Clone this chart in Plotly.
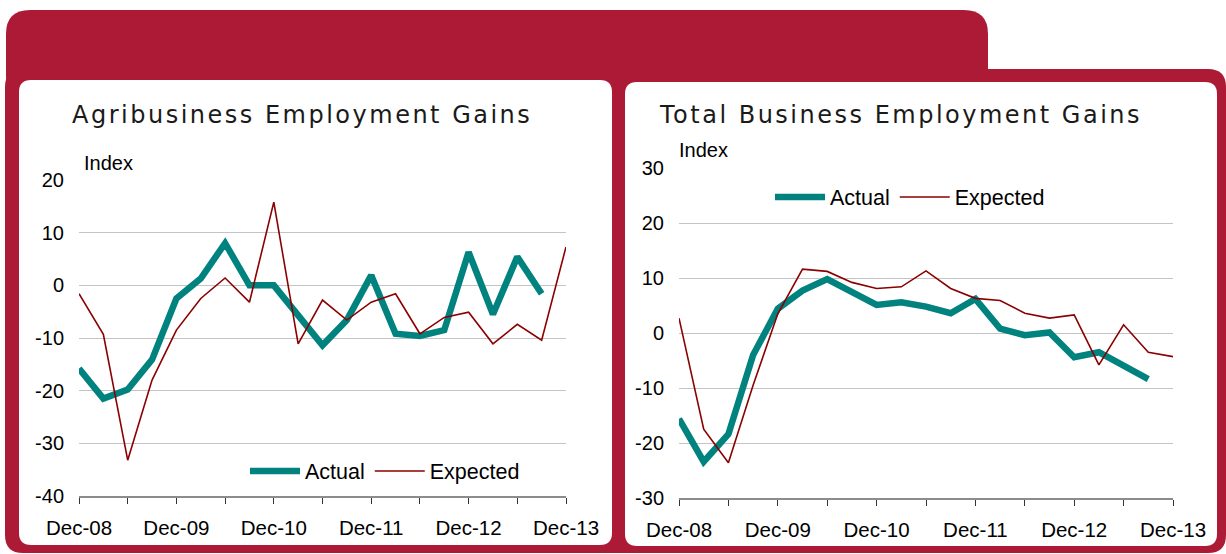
import plotly.graph_objects as go

quarters = ["Dec-08", "Mar-09", "Jun-09", "Sep-09", "Dec-09", "Mar-10", "Jun-10", "Sep-10",
            "Dec-10", "Mar-11", "Jun-11", "Sep-11", "Dec-11", "Mar-12", "Jun-12", "Sep-12",
            "Dec-12", "Mar-13", "Jun-13", "Sep-13", "Dec-13"]

agri_actual = [-15.8, -21.5, -19.8, -14.1, -2.5, 1.3, 8.0, 0.0, 0.0, -5.6, -11.4, -6.6, 1.9,
               -9.2, -9.6, -8.5, 6.3, -5.5, 5.4, -1.6, None]
agri_expected = [-1.6, -9.3, -33.2, -18.0, -8.5, -2.5, 1.4, -3.2, 15.8, -11.1, -2.8, -6.6, -3.2,
                 -1.6, -9.2, -6.1, -5.1, -11.1, -7.4, -10.4, 7.3]
total_actual = [-15.6, -23.4, -18.4, -4.0, 4.4, 7.7, 9.8, 7.3, 5.1, 5.6, 4.8, 3.6, 6.2,
                0.8, -0.4, 0.1, -4.4, -3.5, -5.9, -8.4, None]
total_expected = [2.7, -17.5, -23.6, -9.5, 3.5, 11.6, 11.2, 9.2, 8.1, 8.4, 11.3, 8.1, 6.3,
                  5.9, 3.6, 2.7, 3.3, -5.8, 1.5, -3.5, -4.3]

agri_yticks = [-40, -30, -20, -10, 0, 10, 20]
agri_yticktext = ["-40", "-30", "-20", "-10", "0", "10", "20"]
total_yticks = [-30, -20, -10, 0, 10, 20, 30]
total_yticktext = ["-30", "-20", "-10", "0", "10", "20", "30"]

series_names = ["Actual", "Expected"]
titles = ["Agribusiness Employment Gains", "Total Business Employment Gains"]
y_label = "Index"

W, H = 1226, 554
TEAL = "#00827F"
DARKRED = "#8B0000"
CRIMSON = "#AD1A36"
FONT = "Liberation Sans, Arial, sans-serif"
TITLE_FONT = "DejaVu Sans, Verdana, sans-serif"


def px(x):
    return x / W


def py(y):
    return 1 - y / H


def P(x, y):
    return f"{px(x):.5f},{py(y):.5f}"


def rr(x0, y0, x1, y1, r):
    return (f"M {P(x0 + r, y0)} L {P(x1 - r, y0)} Q {P(x1, y0)} {P(x1, y0 + r)} "
            f"L {P(x1, y1 - r)} Q {P(x1, y1)} {P(x1 - r, y1)} L {P(x0 + r, y1)} "
            f"Q {P(x0, y1)} {P(x0, y1 - r)} L {P(x0, y0 + r)} Q {P(x0, y0)} {P(x0 + r, y0)} Z")


def spaced(t):
    return f'<span style="letter-spacing:2.5px">{t}</span>'


tickvals = quarters[::2]
ticktext = [q if q.startswith("Dec") else "" for q in tickvals]

fig = go.Figure()

# left chart
fig.add_trace(go.Scatter(x=quarters, y=agri_actual, name=series_names[0], mode="lines",
                         line=dict(color=TEAL, width=6.5), xaxis="x", yaxis="y", legend="legend"))
fig.add_trace(go.Scatter(x=quarters, y=agri_expected, name=series_names[1], mode="lines",
                         line=dict(color=DARKRED, width=1.6), xaxis="x", yaxis="y", legend="legend"))
# right chart
fig.add_trace(go.Scatter(x=quarters, y=total_actual, name=series_names[0], mode="lines",
                         line=dict(color=TEAL, width=6.5), xaxis="x2", yaxis="y2", legend="legend2"))
fig.add_trace(go.Scatter(x=quarters, y=total_expected, name=series_names[1], mode="lines",
                         line=dict(color=DARKRED, width=1.6), xaxis="x2", yaxis="y2", legend="legend2"))

xcommon = dict(type="category", range=[0, 20], showgrid=False, showline=True, linecolor="#8C8C8C",
               linewidth=2, ticks="outside", ticklen=6, tickwidth=1, tickcolor="#333333",
               tickvals=tickvals, ticktext=ticktext, tickangle=0, ticklabelstandoff=6,
               tickfont=dict(family=FONT, size=20.5, color="#000000"), zeroline=False,
               fixedrange=True, automargin=False)
ycommon = dict(showgrid=True, gridcolor="#C4C4C4", gridwidth=1, showline=False,
               zeroline=False, ticks="", ticklabelstandoff=14,
               tickfont=dict(family=FONT, size=20, color="#000000"), fixedrange=True,
               automargin=False)

legend_common = dict(orientation="h", xanchor="left", yanchor="middle", bgcolor="rgba(0,0,0,0)",
                     font=dict(family=FONT, size=21.5, color="#000000"), traceorder="normal",
                     borderwidth=0, itemwidth=50)

shapes = [
    dict(type="path", xref="paper", yref="paper", layer="below", line=dict(width=0),
         fillcolor=CRIMSON, path=rr(6, 10, 988, 100, 24)),
    dict(type="path", xref="paper", yref="paper", layer="below", line=dict(width=0),
         fillcolor=CRIMSON, path=rr(5, 69, 1226, 553, 18)),
    dict(type="path", xref="paper", yref="paper", layer="below", line=dict(width=0),
         fillcolor="#FFFFFF", path=rr(19, 80, 612, 545, 12)),
    dict(type="path", xref="paper", yref="paper", layer="below", line=dict(width=0),
         fillcolor="#FFFFFF", path=rr(625, 82, 1217, 546, 12)),
]

annotations = [
    dict(text=spaced(titles[0]), xref="paper", yref="paper", x=px(302), y=py(115), xanchor="center",
         yanchor="middle", showarrow=False,
         font=dict(family=TITLE_FONT, size=24, color="#1A1A1A")),
    dict(text=spaced(titles[1]), xref="paper", yref="paper", x=px(900), y=py(115), xanchor="center",
         yanchor="middle", showarrow=False,
         font=dict(family=TITLE_FONT, size=24, color="#1A1A1A")),
    dict(text=y_label, xref="paper", yref="paper", x=px(82), y=py(163), xanchor="left",
         yanchor="middle", showarrow=False, font=dict(family=FONT, size=20, color="#000000")),
    dict(text=y_label, xref="paper", yref="paper", x=px(677), y=py(150), xanchor="left",
         yanchor="middle", showarrow=False, font=dict(family=FONT, size=20, color="#000000")),
]

fig.update_layout(
    template="none",
    width=W, height=H, margin=dict(l=0, r=0, t=0, b=0, pad=0, autoexpand=False), autosize=False,
    paper_bgcolor="#FFFFFF", plot_bgcolor="rgba(0,0,0,0)",
    xaxis=dict(domain=[px(79), px(566)], anchor="y", **xcommon),
    yaxis=dict(domain=[py(496), py(180)], range=[-40, 20], anchor="x",
               tickvals=agri_yticks, ticktext=agri_yticktext, **ycommon),
    xaxis2=dict(domain=[px(679), px(1173)], anchor="y2", **xcommon),
    yaxis2=dict(domain=[py(498), py(168)], range=[-30, 30], anchor="x2",
                tickvals=total_yticks, ticktext=total_yticktext, **ycommon),
    legend=dict(x=px(245), y=py(471), **legend_common),
    legend2=dict(x=px(770), y=py(197), **legend_common),
    shapes=shapes, annotations=annotations, showlegend=True,
)

fig.write_html("out.html")
